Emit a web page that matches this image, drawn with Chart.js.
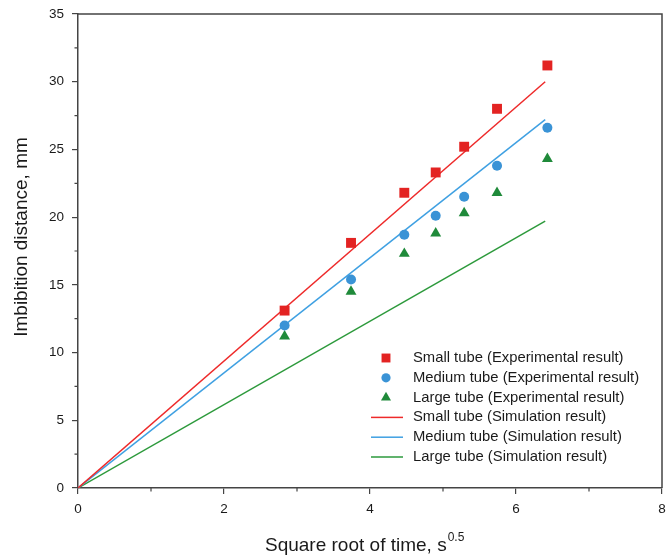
<!DOCTYPE html>
<html>
<head>
<meta charset="utf-8">
<script src="https://cdn.jsdelivr.net/npm/chart.js@4"></script>
<style>
  html,body{margin:0;padding:0;background:#fff;}
  #wrap{width:669px;height:557px;}
</style>
</head>
<body>
<div id="wrap"><canvas id="c" width="669" height="557"></canvas></div>
<script>
// measured points
const xExp=[2.83,3.74,4.47,4.90,5.29,5.74,6.43];
const smallExp=[13.1,18.1,21.8,23.3,25.2,28.0,31.2];
const mediumExp=[12.0,15.4,18.7,20.1,21.5,23.8,26.6];
const largeExp=[11.2,14.5,17.3,18.8,20.3,21.8,24.3];
// simulation lines
const xSim=[0,6.4];
const smallSim=[0,30.0];
const mediumSim=[0,27.2];
const largeSim=[0,19.7];
const xTicks=[0,2,4,6,8];
const yTicks=[0,5,10,15,20,25,30,35];
const xMinor=[1,3,5,7];
const yMinor=[2.5,7.5,12.5,17.5,22.5,27.5,32.5];
const labels=['Small tube (Experimental result)','Medium tube (Experimental result)','Large tube (Experimental result)',
  'Small tube (Simulation result)','Medium tube (Simulation result)','Large tube (Simulation result)'];

const FONT='"Liberation Sans", Arial, sans-serif';
const pts=(xs,ys)=>xs.map((x,i)=>({x:x,y:ys[i]}));

function drawMarker(ctx,style,x,y,r,color){
  ctx.fillStyle=color;
  ctx.beginPath();
  if(style==='rect'){ const s=Math.SQRT1_2*r; ctx.rect(x-s,y-s,2*s,2*s); }
  else if(style==='circle'){ ctx.arc(x,y,r,0,Math.PI*2); }
  else { ctx.moveTo(x,y-r); ctx.lineTo(x+r*0.866,y+r/2); ctx.lineTo(x-r*0.866,y+r/2); ctx.closePath(); }
  ctx.fill();
}

const decor={
  id:'decor',
  afterDraw(chart){
    const {ctx,chartArea:a,scales:{x,y}}=chart;
    ctx.save();
    // frame top/right
    ctx.strokeStyle='#444'; ctx.lineWidth=1.5;
    ctx.beginPath();
    ctx.moveTo(a.left,a.top); ctx.lineTo(a.right,a.top); ctx.lineTo(a.right,a.bottom);
    ctx.stroke();
    // minor ticks
    ctx.lineWidth=1.2;
    ctx.beginPath();
    xMinor.forEach(v=>{const p=x.getPixelForValue(v); ctx.moveTo(p,a.bottom); ctx.lineTo(p,a.bottom+3.5);});
    yMinor.forEach(v=>{const p=y.getPixelForValue(v); ctx.moveTo(a.left-3.5,p); ctx.lineTo(a.left,p);});
    ctx.stroke();
    // axis titles
    ctx.fillStyle='#1a1a1a';
    ctx.font='19px '+FONT;
    ctx.textBaseline='middle';
    const main='Square root of time, s', sup='0.5';
    const wMain=ctx.measureText(main).width;
    ctx.textAlign='left';
    ctx.fillText(main,265,546);
    ctx.font='12px '+FONT;
    ctx.fillText(sup,265+wMain+1,538);
    ctx.save();
    ctx.translate(22,237);
    ctx.rotate(-Math.PI/2);
    ctx.textAlign='center';
    ctx.font='19px '+FONT;
    ctx.fillText('Imbibition distance, mm',0,0);
    ctx.restore();
    // legend
    ctx.font='14.8px '+FONT;
    ctx.textAlign='left';
    chart.data.datasets.forEach((ds,i)=>{
      const ly=358+i*19.8;
      if(ds.showLine){
        ctx.strokeStyle=ds.borderColor; ctx.lineWidth=1.5;
        ctx.beginPath(); ctx.moveTo(371,ly); ctx.lineTo(403,ly); ctx.stroke();
      }else{
        drawMarker(ctx,ds.pointStyle,386,ly,ds.pointStyle==='rect'?6.3:ds.pointStyle==='circle'?4.6:5.8,ds.backgroundColor);
      }
      ctx.fillStyle='#1a1a1a';
      ctx.fillText(ds.label,413,ly);
    });
    ctx.restore();
  }
};

new Chart(document.getElementById('c'),{
  type:'scatter',
  data:{datasets:[
    {label:labels[0],data:pts(xExp,smallExp),pointStyle:'rect',pointRadius:7,backgroundColor:'#e32322',borderWidth:0,order:1},
    {label:labels[1],data:pts(xExp,mediumExp),pointStyle:'circle',pointRadius:5,backgroundColor:'#3a93d6',borderWidth:0,order:1},
    {label:labels[2],data:pts(xExp,largeExp),pointStyle:'triangle',pointRadius:6.3,backgroundColor:'#1f8a3a',borderWidth:0,order:1},
    {label:labels[3],data:pts(xSim,smallSim),showLine:true,pointRadius:0,borderColor:'#ee2a2a',borderWidth:1.5,order:2},
    {label:labels[4],data:pts(xSim,mediumSim),showLine:true,pointRadius:0,borderColor:'#3fa0e2',borderWidth:1.5,order:2},
    {label:labels[5],data:pts(xSim,largeSim),showLine:true,pointRadius:0,borderColor:'#2d9a3c',borderWidth:1.5,order:2}
  ]},
  options:{
    responsive:false,
    animation:false,
    layout:{padding:{left:0,top:14,right:4,bottom:0}},
    plugins:{legend:{display:false},tooltip:{enabled:false}},
    scales:{
      x:{
        type:'linear',min:0,max:8,
        afterBuildTicks:s=>{s.ticks=xTicks.map(v=>({value:v}));},
        afterFit:s=>{s.height=69;s.paddingLeft=0;s.paddingRight=0;},
        grid:{drawOnChartArea:false,drawTicks:true,tickLength:6,color:'#444',lineWidth:1.2},
        border:{color:'#444',width:1.5},
        ticks:{color:'#1a1a1a',font:{family:FONT,size:13.5},padding:7,maxRotation:0}
      },
      y:{
        type:'linear',min:0,max:35,
        afterBuildTicks:s=>{s.ticks=yTicks.map(v=>({value:v}));},
        afterFit:s=>{s.width=78;s.paddingTop=0;s.paddingBottom=0;},
        grid:{drawOnChartArea:false,drawTicks:true,tickLength:6,color:'#444',lineWidth:1.2},
        border:{color:'#444',width:1.5},
        ticks:{color:'#1a1a1a',font:{family:FONT,size:13.5},padding:8}
      }
    }
  },
  plugins:[decor]
});
</script>
</body>
</html>
